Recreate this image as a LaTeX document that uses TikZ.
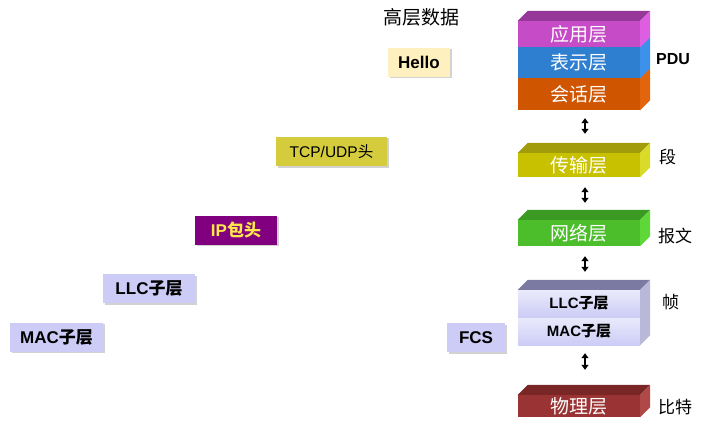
\documentclass[tikz,border=0pt]{standalone}
\usepackage{fontspec}
\setmainfont{Liberation Sans}
\newfontfamily\cjk{Noto Sans CJK SC}
\usetikzlibrary{arrows.meta,shadows}
\definecolor{AppFront}{HTML}{C64BC6}
\definecolor{AppTop}{HTML}{96389A}
\definecolor{AppSide}{HTML}{DD5EE0}
\definecolor{PreFront}{HTML}{2F7FD0}
\definecolor{PreSide}{HTML}{3C92EA}
\definecolor{SesFront}{HTML}{CF5500}
\definecolor{SesSide}{HTML}{E2650E}
\definecolor{TraFront}{HTML}{C8C100}
\definecolor{TraTop}{HTML}{A09C0C}
\definecolor{TraSide}{HTML}{DADA28}
\definecolor{NetFront}{HTML}{4DBE2B}
\definecolor{NetTop}{HTML}{3A9A22}
\definecolor{NetSide}{HTML}{5DD838}
\definecolor{LinkTop}{HTML}{7A7AA2}
\definecolor{LinkSide}{HTML}{B8B8D8}
\definecolor{PhyFront}{HTML}{9A3434}
\definecolor{PhyTop}{HTML}{782626}
\definecolor{PhySide}{HTML}{B04848}
\definecolor{Cream}{HTML}{FFF0C0}
\definecolor{Olive}{HTML}{D4CC3C}
\definecolor{Lavender}{HTML}{CCCCF6}
\definecolor{IPpurple}{HTML}{800080}
\definecolor{IPyellow}{HTML}{FFE94A}

% top and right faces of a layer slab
\newcommand\slabfaces[3]{%
  \fill[#2] (#1.north west) -- ++(10,-10) -- ([shift={(10,-10)}]#1.north east) -- (#1.north east) -- cycle;
  \fill[#3] (#1.north east) -- ++(10,-10) -- ([shift={(10,-10)}]#1.south east) -- (#1.south east) -- cycle;}

\begin{document}
\begin{tikzpicture}[x=1pt, y=-1pt,
        layer/.style={inner sep=0pt, minimum width=122pt, text=white, font=\cjk\fontsize{19}{19}\selectfont},
        hdr/.style={inner sep=0pt, minimum height=29pt, font=\bfseries\fontsize{17}{17}\selectfont,
                    drop shadow={shadow xshift=1.5pt, shadow yshift=-1.5pt, fill=black!35}},
        side/.style={inner sep=0pt, anchor=west, font=\cjk\fontsize{17}{17}\selectfont},
        updown/.style={{Triangle[length=5pt,width=7pt]}-{Triangle[length=5pt,width=7pt]}, line width=2pt}]
    \useasboundingbox (0,0) rectangle (704,425);

    % protocol stack
    \node[layer, fill=SesFront, minimum height=32pt] (hui) at (579,94) {会话层};
    \slabfaces{hui}{SesFront!80!black}{SesSide}
    \node[layer, fill=PreFront, minimum height=31pt] (biao) at (579,62.5) {表示层};
    \slabfaces{biao}{PreFront!80!black}{PreSide}
    \node[layer, fill=AppFront, minimum height=26pt] (ying) at (579,34) {应用层};
    \slabfaces{ying}{AppTop}{AppSide}

    \node[layer, fill=TraFront, minimum height=24pt] (chuan) at (579,165) {传输层};
    \slabfaces{chuan}{TraTop}{TraSide}

    \node[layer, fill=NetFront, minimum height=26pt] (wang) at (579,233) {网络层};
    \slabfaces{wang}{NetTop}{NetSide}

    \node[layer, top color=Lavender!40, bottom color=Lavender, minimum height=28pt, text=black,
          font=\bfseries\fontsize{15}{15}\selectfont] (mac) at (579,331) {MAC{\cjk 子层}};
    \slabfaces{mac}{LinkTop}{LinkSide}
    \node[layer, top color=Lavender!40, bottom color=Lavender, minimum height=27pt, text=black,
          font=\bfseries\fontsize{15}{15}\selectfont] (llc) at (579,303.5) {LLC{\cjk 子层}};
    \slabfaces{llc}{LinkTop}{LinkSide}

    \node[layer, fill=PhyFront, minimum height=22pt] (wu) at (579,406) {物理层};
    \slabfaces{wu}{PhyTop}{PhySide}

    \draw[updown, shorten <=8pt, shorten >=19pt] ([xshift=6pt]hui.south) -- ([xshift=6pt]chuan.north);
    \draw[updown, shorten <=10pt, shorten >=17pt] ([xshift=6pt]chuan.south) -- ([xshift=6pt]wang.north);
    \draw[updown, shorten <=10pt, shorten >=18pt] ([xshift=6pt]wang.south) -- ([xshift=6pt]llc.north);
    \draw[updown, shorten <=8pt, shorten >=25pt] ([xshift=6pt]mac.south) -- ([xshift=6pt]wu.north);

    % names of the data units
    \node[side, font=\bfseries\fontsize{16}{16}\selectfont] (pdu) at (656,59) {PDU};
    \node[side] (duan) at (659,157) {段};
    \node[side] (baowen) at (658,236) {报文};
    \node[side] (zhen) at (662,302) {帧};
    \node[side] (bite) at (658,407) {比特};

    % headers added on the way down
    \node[inner sep=0pt, font=\cjk\fontsize{19}{19}\selectfont] (gaoceng) at (421,17) {高层数据};
    \node[hdr, fill=Cream, minimum width=62pt] (hello) at (419,62.5) {Hello};
    \node[hdr, fill=Olive, minimum width=111pt, font=\fontsize{15.5}{15.5}\selectfont] (tcp) at (331.5,151.5) {TCP/UDP{\cjk 头}};
    \node[hdr, fill=IPpurple, text=IPyellow, minimum width=82pt] (ip) at (236,230) {IP{\cjk 包头}};
    \node[hdr, fill=Lavender, minimum width=92pt] (llcL) at (149,288.5) {LLC{\cjk 子层}};
    \node[hdr, fill=Lavender, minimum width=93pt] (macL) at (56.5,337) {MAC{\cjk 子层}};
    \node[hdr, fill=Lavender, minimum width=58pt] (fcs) at (476,337.5) {FCS};
\end{tikzpicture}
\end{document}
